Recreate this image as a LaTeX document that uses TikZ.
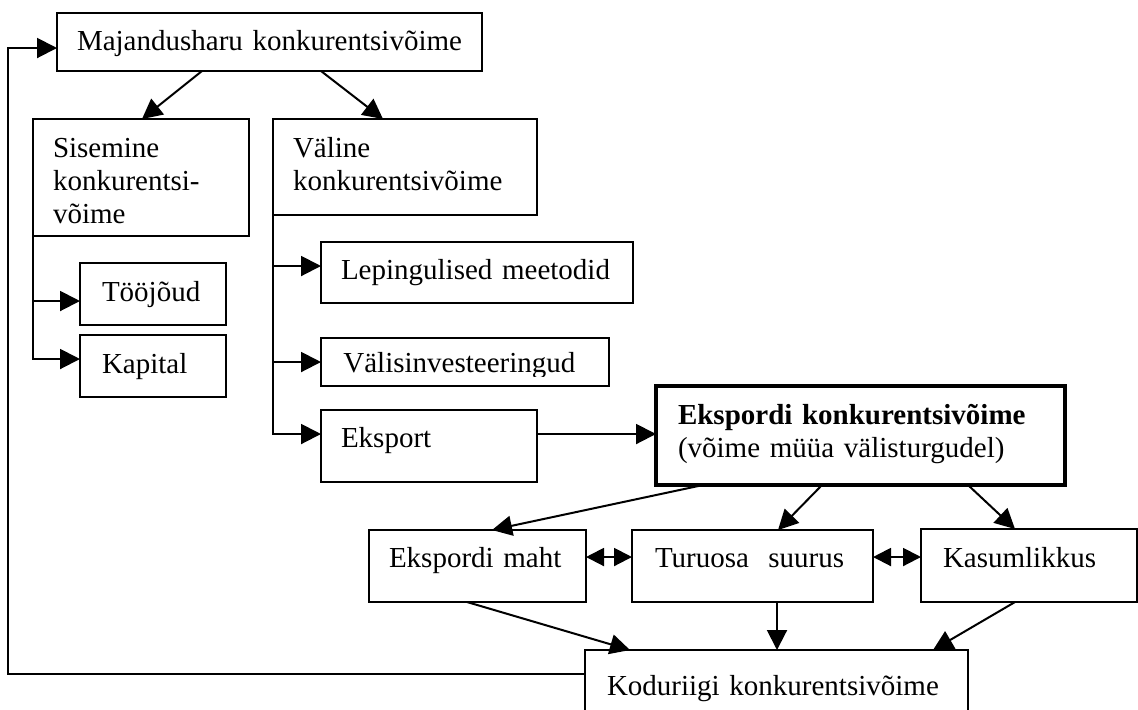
\documentclass[tikz,border=0pt]{standalone}
\usepackage{fontspec}
\setmainfont{Liberation Serif}
\usetikzlibrary{arrows.meta,calc}
\begin{document}
\begin{tikzpicture}[x=0.5pt,y=-0.5pt,
  every node/.style={font=\fontsize{14.5pt}{16.5pt}\selectfont},
  box/.style={draw, line width=1pt, rectangle, anchor=north west, inner ysep=0pt, outer sep=0pt, align=left},
  arr/.style={line width=1pt, -{Triangle[length=10pt,width=10pt]}},
  darr/.style={line width=1pt, {Triangle[length=9pt,width=9pt]}-{Triangle[length=9pt,width=9pt]}},
]
\useasboundingbox (0,0) rectangle (1138,709);

% boxes
\node[box, inner xsep=10pt, text width=192.5pt, text height=18.5pt, text depth=10.5pt] (maj) at (57,13) {Majandusharu konkurentsivõime};
\node[box, inner xsep=10pt, text width=88pt, text height=19pt, text depth=39.5pt] (sis) at (33,119) {Sisemine\\konkurentsi-\\võime};
\node[box, inner xsep=10pt, text width=112pt, text height=19pt, text depth=29pt] (val) at (273,119) {Väline\\konkurentsivõime};
\node[box, inner xsep=11pt, text width=51pt, text height=19pt, text depth=12pt] (tooj) at (80,263) {Tööjõud};
\node[box, inner xsep=11pt, text width=51pt, text height=19pt, text depth=12pt] (kap) at (80,335) {Kapital};
\node[box, inner xsep=10pt, text width=136pt, text height=18.5pt, text depth=12pt] (lep) at (321,242) {Lepingulised meetodid};
\node[box, inner sep=0pt, minimum width=144pt, minimum height=24pt] (valis) at (321,338) {};
\begin{scope}
  \clip (321,338) rectangle (609,376);
  \node[anchor=base west, inner sep=0pt] (valistext) at (343,372) {Välisinvesteeringud};
\end{scope}
\node[box, inner xsep=10pt, text width=88pt, text height=18.5pt, text depth=17.5pt] (eksport) at (321,410) {Eksport};
\node[box, line width=1.75pt, inner xsep=11pt, text width=182.5pt, text height=19pt, text depth=30.5pt] (ekon) at (656,386) {\textbf{Ekspordi konkurentsivõime}\\(võime müüa välisturgudel)};
\node[box, inner xsep=10pt, text width=88.5pt, text height=18.5pt, text depth=17.5pt] (emaht) at (369,530) {Ekspordi maht};
\node[box, inner xsep=11.5pt, text width=97.5pt, text height=18.5pt, text depth=17.5pt] (turu) at (632,530) {Turuosa\ \ suurus};
\node[box, inner xsep=11pt, text width=86pt, text height=19pt, text depth=17.5pt] (kasum) at (921,529) {Kasumlikkus};
\node[box, inner xsep=11pt, text width=169.5pt, text height=22.5pt, text depth=14pt] (kodu) at (585,650) {Koduriigi konkurentsivõime};

% connectors from top box
\draw[arr] ($(maj.south west)+(145,0)$) -- ($(sis.north west)+(109,0)$);
\draw[arr] ($(maj.south west)+(264,0)$) -- ($(val.north west)+(110,0)$);

% internal branches
\draw[arr] (sis.south west) |- ($(tooj.north west)+(0,38)$);
\draw[arr] (sis.south west) |- ($(kap.north west)+(0,24)$);

% external branches
\draw[arr] (val.south west) |- ($(lep.north west)+(0,24)$);
\draw[arr] (val.south west) |- ($(valis.north west)+(0,24)$);
\draw[arr] (val.south west) |- ($(eksport.north west)+(0,24)$);

% export to export competitiveness
\draw[arr] ($(eksport.north east)+(0,24)$) -- ($(ekon.north west)+(0,48)$);

% export competitiveness to indicators
\draw[arr] ($(ekon.south west)+(47,0)$) -- ($(emaht.north west)+(123,0)$);
\draw[arr] ($(ekon.south west)+(166,0)$) -- ($(turu.north west)+(146,0)$);
\draw[arr] ($(ekon.south west)+(312,0)$) -- ($(kasum.north west)+(94,0)$);

% double arrows between indicators
\draw[darr] ($(emaht.north east)+(0,27)$) -- ($(turu.north west)+(0,27)$);
\draw[darr] ($(turu.north east)+(0,27)$) -- ($(kasum.north west)+(0,28)$);

% indicators to home country competitiveness
\draw[arr] ($(emaht.south west)+(98,0)$) -- ($(kodu.north west)+(45,0)$);
\draw[arr] ($(turu.south west)+(145,0)$) -- ($(kodu.north west)+(192,0)$);
\draw[arr] ($(kasum.south west)+(94,0)$) -- ($(kodu.north west)+(348,0)$);

% feedback loop
\coordinate (fb) at (8,48);
\draw[arr] ($(kodu.north west)+(0,24)$) -| (fb) -- ($(maj.north west)+(0,35)$);
\end{tikzpicture}
\end{document}
